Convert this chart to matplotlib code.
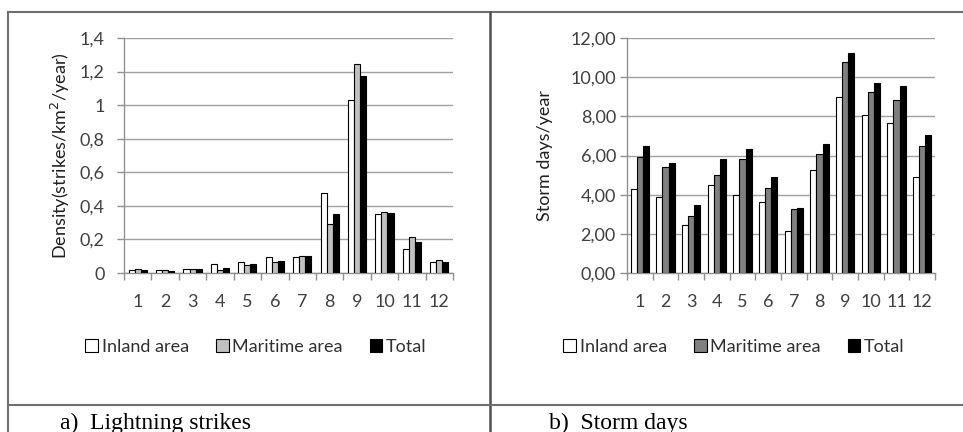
import matplotlib
matplotlib.use('Agg')
from matplotlib import pyplot as plt
from matplotlib.lines import Line2D
import numpy as np

months = [1, 2, 3, 4, 5, 6, 7, 8, 9, 10, 11, 12]
series_names = ['Inland area', 'Maritime area', 'Total']

# a) lightning strike density (strikes/km2/year)
dens_inland = [0.020, 0.015, 0.024, 0.055, 0.063, 0.093, 0.097, 0.478, 1.032, 0.350, 0.142, 0.067]
dens_maritime = [0.024, 0.020, 0.022, 0.020, 0.047, 0.063, 0.103, 0.293, 1.244, 0.364, 0.214, 0.075]
dens_total = [0.020, 0.012, 0.022, 0.032, 0.051, 0.069, 0.099, 0.352, 1.173, 0.360, 0.186, 0.067]

# b) storm days per year
storm_inland = [4.31, 3.90, 2.47, 4.49, 4.00, 3.63, 2.17, 5.25, 8.98, 8.08, 7.68, 4.92]
storm_maritime = [5.90, 5.42, 2.90, 5.02, 5.81, 4.32, 3.25, 6.10, 10.76, 9.25, 8.85, 6.46]
storm_total = [6.47, 5.63, 3.47, 5.80, 6.31, 4.90, 3.31, 6.58, 11.24, 9.71, 9.56, 7.03]

left_ticks = [0, 0.2, 0.4, 0.6, 0.8, 1.0, 1.2, 1.4]
left_ticklabels = ['0', '0,2', '0,4', '0,6', '0,8', '1', '1,2', '1,4']
right_ticks = [0, 2, 4, 6, 8, 10, 12]
right_ticklabels = ['0,00', '2,00', '4,00', '6,00', '8,00', '10,00', '12,00']

W, H = 963, 432
fig = plt.figure(figsize=(W / 100, H / 100), dpi=100)
fig.patch.set_facecolor('white')
font = 'Lato'
fs = 13
txt_col = '#404040'


def box(x0, y0, x1, y1):
    # pixel coords (top-left origin) -> figure fraction
    return [x0 / W, 1 - y1 / H, (x1 - x0) / W, (y1 - y0) / H]


def draw_panel(rect, data, colors, bw, ticks, ticklabels, ylim, ylabel, ylab_x, ypad, leg_x):
    ax = fig.add_axes(box(*rect))
    x = np.array(months)
    offs = [-bw, 0, bw]
    handles = []
    for vals, c, o, name in zip(data, colors, offs, series_names):
        b = ax.bar(x + o, vals, width=bw, color=c, edgecolor='black', linewidth=0.8, label=name, zorder=3)
        handles.append(b)
    ax.set_xlim(0.5, 12.5)
    ax.set_ylim(*ylim)
    ax.set_yticks(ticks)
    ax.set_yticklabels(ticklabels, fontsize=fs, color=txt_col, family=font)
    ax.set_xticks(x)
    ax.set_xticklabels([str(m) for m in months], fontsize=fs, color=txt_col, family=font)
    ax.set_xticks(np.arange(0.5, 13, 1), minor=True)
    ax.tick_params(axis='x', which='major', length=0, pad=15)
    ax.tick_params(axis='x', which='minor', length=5, color='#909090', width=1)
    ax.tick_params(axis='y', length=5, color='#909090', width=1, pad=ypad)
    ax.grid(axis='y', color='#a0a0a0', linewidth=1, zorder=0)
    for s in ['top', 'right']:
        ax.spines[s].set_visible(False)
    for s in ['left', 'bottom']:
        ax.spines[s].set_color('#909090')
        ax.spines[s].set_linewidth(1)
    ax.set_ylabel(ylabel, fontsize=fs, color='#202020', family=font)
    ax.yaxis.set_label_coords((ylab_x - rect[0]) / (rect[2] - rect[0]), 0.5)
    fig.legend(handles=handles, loc='center', bbox_to_anchor=(leg_x / W, 1 - 347 / H), ncol=3,
               frameon=False, prop={'family': font, 'size': fs}, handlelength=0.7, handleheight=0.7,
               handletextpad=0.2, columnspacing=1.5, labelcolor='#303030')
    return ax


draw_panel((124, 38, 453, 273), [dens_inland, dens_maritime, dens_total],
           ['white', '#c0c0c0', 'black'], 0.22, left_ticks, left_ticklabels, (0, 1.4),
           'Density(strikes/km$^2$/year)', 72, 9, 256)
draw_panel((627, 38, 935, 273), [storm_inland, storm_maritime, storm_total],
           ['white', '#808080', 'black'], 0.237, right_ticks, right_ticklabels, (0, 12),
           'Storm days/year', 553, 3, 734)

# frame lines
lc = '#707070'
fig.add_artist(Line2D([8 / W, 8 / W], [0, 1 - 12 / H], color=lc, lw=1.5))
fig.add_artist(Line2D([8 / W, 1], [1 - 12 / H, 1 - 12 / H], color=lc, lw=1.5))
fig.add_artist(Line2D([490 / W, 490 / W], [0, 1 - 12 / H], color='#505050', lw=1.8))
fig.add_artist(Line2D([8 / W, 1], [1 - 405 / H, 1 - 405 / H], color=lc, lw=1.5))

fig.text(60 / W, 1 - 423 / H, 'a)  Lightning strikes', fontsize=17, family='Liberation Serif', va='center')
fig.text(549 / W, 1 - 423 / H, 'b)  Storm days', fontsize=17, family='Liberation Serif', va='center')

fig.savefig('out.png', dpi=100)
